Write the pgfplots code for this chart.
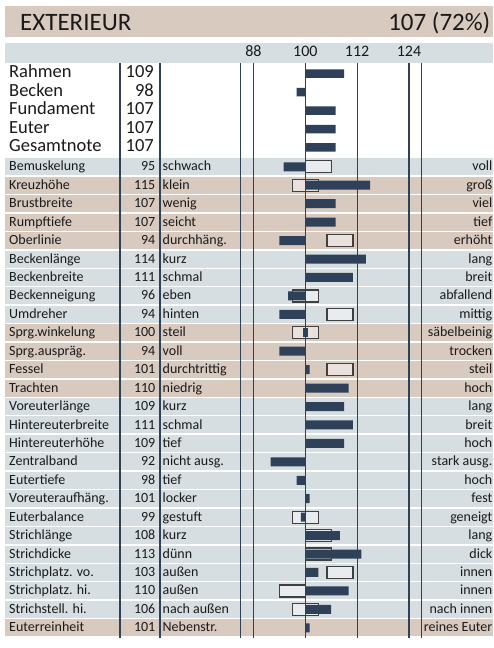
\documentclass[border=0pt]{standalone}
\usepackage{fontspec}
\setmainfont{Carlito}
\usepackage{pgfplots}
\usepackage{pgfplotstable}
\pgfplotsset{compat=1.18}
\definecolor{beige}{HTML}{D9CAC0}
\definecolor{greyb}{HTML}{D6DEE1}
\definecolor{navy}{HTML}{2E4158}
\definecolor{txt}{HTML}{1A1A1A}

\pgfdeclareplotmark{refbox}{\pgfpathrectangle{\pgfpoint{-13pt}{-6pt}}{\pgfpoint{26pt}{12pt}}\pgfusepathqfillstroke}
\pgfdeclareplotmark{zbar}{\pgfpathrectangle{\pgfpoint{-2.2pt}{-4.5pt}}{\pgfpoint{4.4pt}{9pt}}\pgfusepathqfill}

% lower rows: k = row, v = value
\pgfplotstableread{
k v
0 95
1 115
2 107
3 107
4 94
5 114
6 111
7 96
8 94
9 100
10 94
11 101
12 110
13 109
14 111
15 109
16 92
17 98
18 101
19 99
20 108
21 113
22 103
23 110
24 106
25 101
}\lowdata

% upper rows
\pgfplotstableread{
k v
-5.05 109
-4.05 98
-3.05 107
-2.05 107
-1.05 107
}\updata

% reference boxes (centre of box, 6 points wide)
\pgfplotstableread{
k c
0 103
1 100
4 108
7 100
8 108
9 100
11 108
19 100
20 103
21 103
22 108
23 97
24 100
}\boxdata

\newcommand{\fsS}{\fontsize{14}{16}\selectfont}
\newcommand{\fsU}{\fontsize{18.5}{22}\selectfont}
\newcommand{\fsH}{\fontsize{16}{18}\selectfont}
\newcommand{\fsT}{\fontsize{25}{28}\selectfont}

\newcommand{\band}[2]{\fill[#2] (axis cs:{px(5)},{#1-0.461}) rectangle (axis cs:{px(493)},{#1+0.461});}
\newcommand{\vln}[1]{\draw[navy,line width=1.1pt] (axis cs:{#1},{py(63.3)}) -- (axis cs:{#1},{py(637.5)});}
\newcommand{\lrow}[5]{%
 \node[anchor=base west,font=\fsS] at (axis cs:{px(9)},{#1+0.22}) {#2};
 \node[anchor=base east,font=\fsS] at (axis cs:{px(155.5)},{#1+0.22}) {#3};
 \node[anchor=base west,font=\fsS] at (axis cs:{px(162.5)},{#1+0.22}) {#4};
 \node[anchor=base east,font=\fsS] at (axis cs:{px(492.5)},{#1+0.22}) {#5};}
\newcommand{\urow}[3]{%
 \node[anchor=base west,font=\fsU] at (axis cs:{px(9)},{#1+0.22}) {#2};
 \node[anchor=base east,font=\fsU] at (axis cs:{px(154)},{#1+0.22}) {#3};}

\begin{document}
\begin{tikzpicture}[declare function={px(\p)=(\p-305.3)/4.32; py(\p)=(\p-166.8)/18.44;},
  every node/.style={inner sep=0pt,text=txt}]
\begin{axis}[
  set layers, clip marker paths=true,
  width=493pt, height=648pt, scale only axis,
  xmin=-70.67, xmax=43.45, ymin=-9.046, ymax=26.095,
  y dir=reverse, hide axis, clip=false,
]
\begin{pgfonlayer}{axis background}
\fill[white] (rel axis cs:0,0) rectangle (rel axis cs:1,1);
% title and header bands
\fill[beige] (axis cs:{px(5)},{py(6)}) rectangle (axis cs:{px(493)},{py(36.7)});
\fill[greyb] (axis cs:{px(5)},{py(42.7)}) rectangle (axis cs:{px(493)},{py(63.3)});
% row bands
\band{0}{greyb}
\band{1}{beige}\band{2}{beige}\band{3}{beige}\band{4}{beige}
\band{5}{greyb}\band{6}{greyb}\band{7}{greyb}\band{8}{greyb}
\band{9}{beige}\band{10}{beige}\band{11}{beige}\band{12}{beige}
\band{13}{greyb}\band{14}{greyb}\band{15}{greyb}\band{16}{greyb}
\band{17}{greyb}\band{18}{greyb}\band{19}{greyb}\band{20}{greyb}
\band{21}{greyb}\band{22}{greyb}\band{23}{greyb}\band{24}{greyb}
\band{25}{beige}
\end{pgfonlayer}
% reference boxes
\addplot[on layer=axis grid, only marks, mark=refbox, mark options={draw=black!75, line width=1.3pt, fill=white, fill opacity=0.45}]
  table[x expr=\thisrow{c}-100, y=k]{\boxdata};
% vertical lines
\begin{pgfonlayer}{axis ticks}
\vln{px(120)}\vln{px(160)}
\vln{-15}\vln{-12}\vln{0}\vln{12}\vln{24}\vln{27}
\end{pgfonlayer}
% bars
\addplot[xbar, bar width=9pt, bar shift=0pt, fill=navy, draw=none]
  table[x expr=\thisrow{v}-100, y=k]{\lowdata};
\addplot[xbar, bar width=8.5pt, bar shift=0pt, fill=navy, draw=none]
  table[x expr=\thisrow{v}-100, y=k]{\updata};
\addplot[only marks, mark=zbar, mark options={fill=navy}] coordinates {(0,9)};
% texts
\node[anchor=base west,font=\fsT] at (axis cs:{px(20)},{py(30.7)}) {EXTERIEUR};
\node[anchor=base east,font=\fsT] at (axis cs:{px(490.5)},{py(30.7)}) {107 (72\%)};
\node[anchor=base,font=\fsH] at (axis cs:-12,{py(56)}) {88};
\node[anchor=base,font=\fsH] at (axis cs:0,{py(56)}) {100};
\node[anchor=base,font=\fsH] at (axis cs:12,{py(56)}) {112};
\node[anchor=base,font=\fsH] at (axis cs:24,{py(56)}) {124};
\urow{-5.05}{Rahmen}{109}
\urow{-4.05}{Becken}{98}
\urow{-3.05}{Fundament}{107}
\urow{-2.05}{Euter}{107}
\urow{-1.05}{Gesamtnote}{107}
\lrow{0}{Bemuskelung}{95}{schwach}{voll}
\lrow{1}{Kreuzhöhe}{115}{klein}{groß}
\lrow{2}{Brustbreite}{107}{wenig}{viel}
\lrow{3}{Rumpftiefe}{107}{seicht}{tief}
\lrow{4}{Oberlinie}{94}{durchhäng.}{erhöht}
\lrow{5}{Beckenlänge}{114}{kurz}{lang}
\lrow{6}{Beckenbreite}{111}{schmal}{breit}
\lrow{7}{Beckenneigung}{96}{eben}{abfallend}
\lrow{8}{Umdreher}{94}{hinten}{mittig}
\lrow{9}{Sprg.winkelung}{100}{steil}{säbelbeinig}
\lrow{10}{Sprg.auspräg.}{94}{voll}{trocken}
\lrow{11}{Fessel}{101}{durchtrittig}{steil}
\lrow{12}{Trachten}{110}{niedrig}{hoch}
\lrow{13}{Voreuterlänge}{109}{kurz}{lang}
\lrow{14}{Hintereuterbreite}{111}{schmal}{breit}
\lrow{15}{Hintereuterhöhe}{109}{tief}{hoch}
\lrow{16}{Zentralband}{92}{nicht ausg.}{stark ausg.}
\lrow{17}{Eutertiefe}{98}{tief}{hoch}
\lrow{18}{Voreuteraufhäng.}{101}{locker}{fest}
\lrow{19}{Euterbalance}{99}{gestuft}{geneigt}
\lrow{20}{Strichlänge}{108}{kurz}{lang}
\lrow{21}{Strichdicke}{113}{dünn}{dick}
\lrow{22}{Strichplatz. vo.}{103}{außen}{innen}
\lrow{23}{Strichplatz. hi.}{110}{außen}{innen}
\lrow{24}{Strichstell. hi.}{106}{nach außen}{nach innen}
\lrow{25}{Euterreinheit}{101}{Nebenstr.}{reines Euter}
\coordinate (BL) at (rel axis cs:0,0);
\coordinate (TR) at (rel axis cs:1,1);
\end{axis}
\pgfresetboundingbox
\useasboundingbox (BL) rectangle (TR);
\end{tikzpicture}
\end{document}
